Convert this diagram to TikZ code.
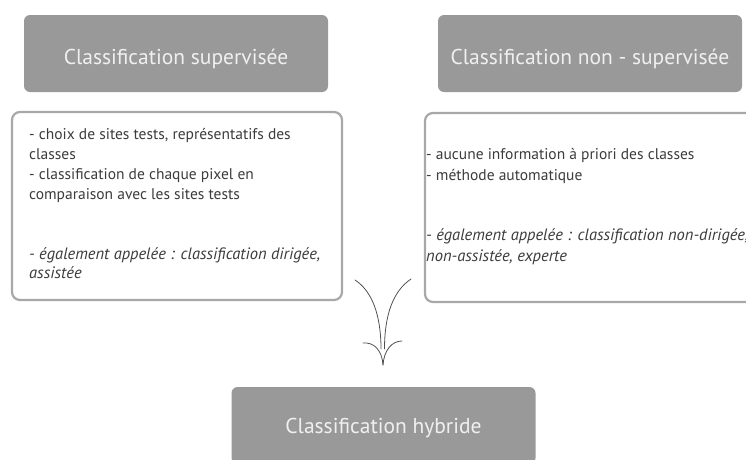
\documentclass[tikz,border=0pt]{standalone}
\usepackage{fontspec}
\setmainfont{PT Sans}
\definecolor{boxgrey}{HTML}{999999}
\definecolor{titletxt}{HTML}{F0F0F0}
\definecolor{bodytxt}{HTML}{3C3C3C}
\definecolor{framegrey}{HTML}{A8A8A8}
\definecolor{arrowgrey}{HTML}{505050}
\begin{document}
\begin{tikzpicture}[x=1pt,y=-1pt,
  titlebox/.style={fill=boxgrey,draw=none,rounded corners=6pt,minimum width=304pt,minimum height=77pt,inner sep=0pt},
  framebox/.style={fill=white,draw=framegrey,line width=2.2pt,rounded corners=8pt,inner sep=0pt},
  titletext/.style={text=titletxt,font=\fontsize{21.5}{26}\selectfont,anchor=base,inner sep=0pt},
  bodyline/.style={text=bodytxt,font=\fontsize{15.5}{20}\selectfont,anchor=base west,inner sep=0pt},
  bodyital/.style={bodyline,font=\fontsize{16.5}{20}\selectfont\itshape},
  curve/.style={draw=arrowgrey,line width=0.8pt,line cap=round}
]
\useasboundingbox (0,0) rectangle (746,459);
\begin{scope}
\clip (0,0) rectangle (746,459);
% title boxes
\node[titlebox] (sup) at (176,53.5) {};
\node[titlebox] (nonsup) at (590,53.5) {};
\node[titlebox] (hyb) at (383.5,425.5) {};
\node[titletext] (tsup) at (176,64) {Classification supervisée};
\node[titletext] (tnonsup) at (590,64) {Classification non - supervisée};
\node[titletext] (thyb) at (383.5,433) {Classification hybride};
% frame boxes
\node[framebox,minimum width=330pt,minimum height=188pt] (lbox) at (177,206) {};
\node[framebox,minimum width=330pt,minimum height=189pt] (rbox) at (590,207.5) {};
% left box text
\node[bodyline] (l1) at (29,139) {- choix de sites tests, représentatifs des};
\node[bodyline] (l2) at (29,159) {classes};
\node[bodyline] (l3) at (29,179) {- classification de chaque pixel en};
\node[bodyline] (l4) at (29,199) {comparaison avec les sites tests};
\node[bodyital] (l5) at (29,259) {- également appelée : classification dirigée,};
\node[bodyital] (l6) at (29,278) {assistée};
% right box text
\node[bodyline] (r1) at (426,159) {- aucune information à priori des classes};
\node[bodyline] (r2) at (426,180) {- méthode automatique};
\node[bodyital] (r3) at (426,240) {- également appelée : classification non-dirigée,};
\node[bodyital] (r4) at (426,261) {non-assistée, experte};
% arrow
\coordinate (a1) at (355,280);
\coordinate (a2) at (411,279);
\coordinate (e1) at (381,349);
\coordinate (e2) at (384.5,349);
\coordinate (tip) at (383,365);
\coordinate (w1) at (363,343);
\coordinate (w2) at (402,341);
\draw[curve] (a1) .. controls (372,291) and (381,315) .. (e1);
\draw[curve] (a2) .. controls (393,291) and (384.5,315) .. (e2);
\draw[curve] (w1) .. controls (374,342) and (382,350) .. (tip);
\draw[curve] (w2) .. controls (392,341) and (384,350) .. (tip);
\end{scope}
\end{tikzpicture}
\end{document}
